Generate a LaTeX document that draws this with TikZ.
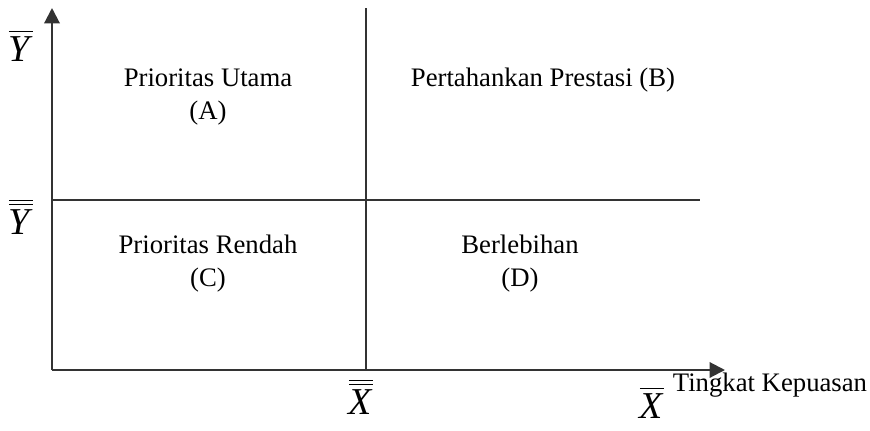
\documentclass[tikz,border=0pt]{standalone}
\usepackage{fontspec}
\setmainfont{Liberation Serif}
\usetikzlibrary{positioning,arrows.meta}
\newcommand{\onebar}[1]{\vbox{\hrule height 0.9pt\kern 3pt\hbox{\textit{#1}}}}
\newcommand{\twobar}[1]{\vbox{\hrule height 0.9pt\kern 2pt\hrule height 0.9pt\kern 3pt\hbox{\textit{#1}}}}

\begin{document}
\begin{tikzpicture}[x=0.025cm,y=-0.025cm,
  axis/.style={line width=1.5pt, draw=black!80},
  quad/.style={font=\fontsize{19}{23.5}\selectfont, align=center},
  sym/.style={font=\fontsize{27}{30}\selectfont, inner sep=0pt}]
\useasboundingbox (0,0) rectangle (870,430);
% axes
\coordinate (O) at (52,370);
\coordinate (ytip) at (52,8);
\coordinate (xtip) at (725,370);
\draw[axis,-{Triangle[length=11pt,width=11pt]}] (O) -- (ytip);
\draw[axis,-{Triangle[length=11pt,width=11pt]}] (O) -- (xtip);
% dividing lines
\coordinate (vtop) at (366,8);
\coordinate (vbot) at (366,370);
\coordinate (hleft) at (52,200);
\coordinate (hright) at (700,200);
\draw[axis] (vbot) -- (vtop);
\draw[axis] (hleft) -- (hright);
% quadrants
\node[quad] (qa) at (208,97) {Prioritas Utama\\(A)};
\node[quad] (qb) at (543,80) {Pertahankan Prestasi (B)};
\node[quad] (qc) at (208,264) {Prioritas Rendah\\(C)};
\node[quad] (qd) at (520,264) {Berlebihan\\(D)};
% axis labels
\node[sym] (ybar) at (21,46) {\onebar{Y}};
\node[sym] (ybarbar) at (21,217) {\twobar{Y}};
\node[sym] (xbarbar) at (361,397) {\twobar{X}};
\node[sym] (xbar) at (652,403) {\onebar{X}};
\node[quad] (xname) at (770,385) {Tingkat Kepuasan};
\end{tikzpicture}
\end{document}
